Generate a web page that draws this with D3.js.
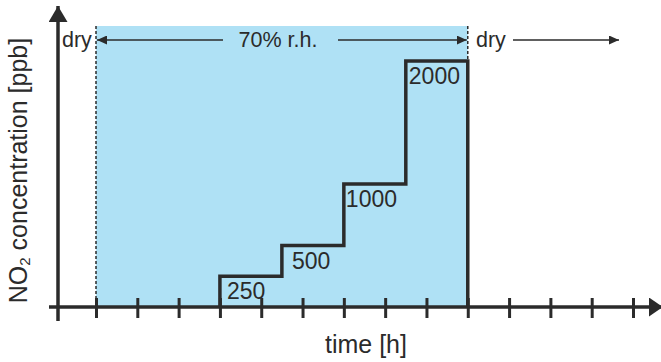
<!DOCTYPE html>
<html>
<head>
<meta charset="utf-8">
<script src="https://cdn.jsdelivr.net/npm/d3@7/dist/d3.min.js"></script>
<style>
  html, body { margin: 0; padding: 0; background: #fff; }
  svg { display: block; font-family: "Liberation Sans", Arial, Helvetica, sans-serif; }
</style>
</head>
<body>
<svg id="chart" width="661" height="362"></svg>
<script>
// NO2 dosing profile: stepwise concentration during the humid phase
const stepTimes = [4, 5.5, 7, 8.5, 10];          // h, start of each step (last = end)
const stepLevels = [250, 500, 1000, 2000];      // ppb
const stepLabels = ["250", "500", "1000", "2000"];
const tickTimes = [1, 2, 3, 4, 5, 6, 7, 8, 9, 10, 11, 12, 13, 14];
const humidPhase = [1, 10];                     // h, 70% r.h. window
const phaseLabels = ["dry", "70% r.h.", "dry"];

const ink = "#2b2b2b";
const blue = "#afe1f5";

const svg = d3.select("#chart");
const x = d3.scaleLinear().domain([1, 14]).range([96, 633]);
const y = d3.scaleLinear().domain([0, 2000]).range([307, 61]);

const yAxisX = 58, bandTop = 26, arrowY = 40;

const defs = svg.append("defs");
function head(id, w, h) {
  defs.append("marker").attr("id", id)
    .attr("viewBox", `0 0 ${w} ${h}`).attr("refX", w).attr("refY", h / 2)
    .attr("markerWidth", w).attr("markerHeight", h)
    .attr("markerUnits", "userSpaceOnUse").attr("orient", "auto-start-reverse")
    .append("path").attr("d", `M0,0L${w},${h / 2}L0,${h}Z`).attr("fill", ink);
}
head("small", 10, 9);

// humid phase band
svg.append("rect")
  .attr("x", x(humidPhase[0])).attr("y", bandTop)
  .attr("width", x(humidPhase[1]) - x(humidPhase[0]))
  .attr("height", y(0) - bandTop)
  .attr("fill", blue);

// dotted phase boundaries
svg.append("line").attr("x1", x(humidPhase[0])).attr("x2", x(humidPhase[0]))
  .attr("y1", bandTop).attr("y2", y(0))
  .attr("stroke", ink).attr("stroke-width", 1.5).attr("stroke-dasharray", "3,2");
svg.append("line").attr("x1", x(humidPhase[1])).attr("x2", x(humidPhase[1]))
  .attr("y1", bandTop).attr("y2", y(stepLevels[stepLevels.length - 1]))
  .attr("stroke", ink).attr("stroke-width", 1.5).attr("stroke-dasharray", "3,2");

// phase arrows
const arrowStyle = s => s.attr("stroke", ink).attr("stroke-width", 1.6).attr("fill", "none");
svg.append("line").attr("x1", 223).attr("x2", x(humidPhase[0]) + 1)
  .attr("y1", arrowY).attr("y2", arrowY).call(arrowStyle).attr("marker-end", "url(#small)");
svg.append("line").attr("x1", 338).attr("x2", x(humidPhase[1]) - 1)
  .attr("y1", arrowY).attr("y2", arrowY).call(arrowStyle).attr("marker-end", "url(#small)");
svg.append("line").attr("x1", 513).attr("x2", 619)
  .attr("y1", arrowY).attr("y2", arrowY).call(arrowStyle).attr("marker-end", "url(#small)");

const phaseText = svg.append("g").attr("fill", ink).attr("font-size", 21.5);
phaseText.append("text").attr("x", 62).attr("y", 47).text(phaseLabels[0]);
phaseText.append("text").attr("x", 278).attr("y", 47).attr("text-anchor", "middle").text(phaseLabels[1]);
phaseText.append("text").attr("x", 476).attr("y", 47).text(phaseLabels[2]);

// concentration step profile
const pts = [[stepTimes[0], 0]];
stepLevels.forEach((v, i) => {
  pts.push([stepTimes[i], v]);
  pts.push([stepTimes[i + 1], v]);
});
pts.push([stepTimes[stepTimes.length - 1], 0]);
svg.append("path")
  .attr("d", d3.line().x(d => x(d[0])).y(d => y(d[1]))(pts))
  .attr("fill", "none").attr("stroke", ink).attr("stroke-width", 3.5)
  .attr("stroke-linejoin", "miter");

// step value labels
const labelDx = [7, 10, 2, 3];
svg.append("g").attr("fill", ink).attr("font-size", 23)
  .selectAll("text").data(stepLevels).join("text")
  .attr("x", (d, i) => x(stepTimes[i]) + labelDx[i])
  .attr("y", d => y(d) + 23)
  .text((d, i) => stepLabels[i]);

// x axis with arrow
head("big", 14, 19);
svg.append("line").attr("x1", 49).attr("x2", 663).attr("y1", y(0)).attr("y2", y(0))
  .attr("stroke", ink).attr("stroke-width", 3.5).attr("marker-end", "url(#big)");
const xAxis = d3.axisBottom(x).tickValues(tickTimes).tickSize(0).tickFormat("");
const gx = svg.append("g").attr("transform", `translate(0,${y(0)})`).call(xAxis);
gx.select(".domain").remove();
gx.selectAll(".tick line").attr("y1", -9).attr("y2", 11)
  .attr("stroke", ink).attr("stroke-width", 3);

// y axis with arrow
head("bigY", 16, 19);
svg.append("line").attr("x1", yAxisX).attr("x2", yAxisX).attr("y1", 321).attr("y2", 6)
  .attr("stroke", ink).attr("stroke-width", 3.5).attr("marker-end", "url(#bigY)");

// axis titles
svg.append("text").attr("x", 366).attr("y", 353).attr("text-anchor", "middle")
  .attr("fill", ink).attr("font-size", 25).text("time [h]");
const yt = svg.append("text")
  .attr("transform", `translate(27,170.5) rotate(-90)`)
  .attr("text-anchor", "middle").attr("fill", ink).attr("font-size", 25);
yt.append("tspan").text("NO");
yt.append("tspan").attr("font-size", 15).attr("dy", 3).text("2");
yt.append("tspan").attr("dy", -3).text(" concentration [ppb]");
</script>
</body>
</html>
